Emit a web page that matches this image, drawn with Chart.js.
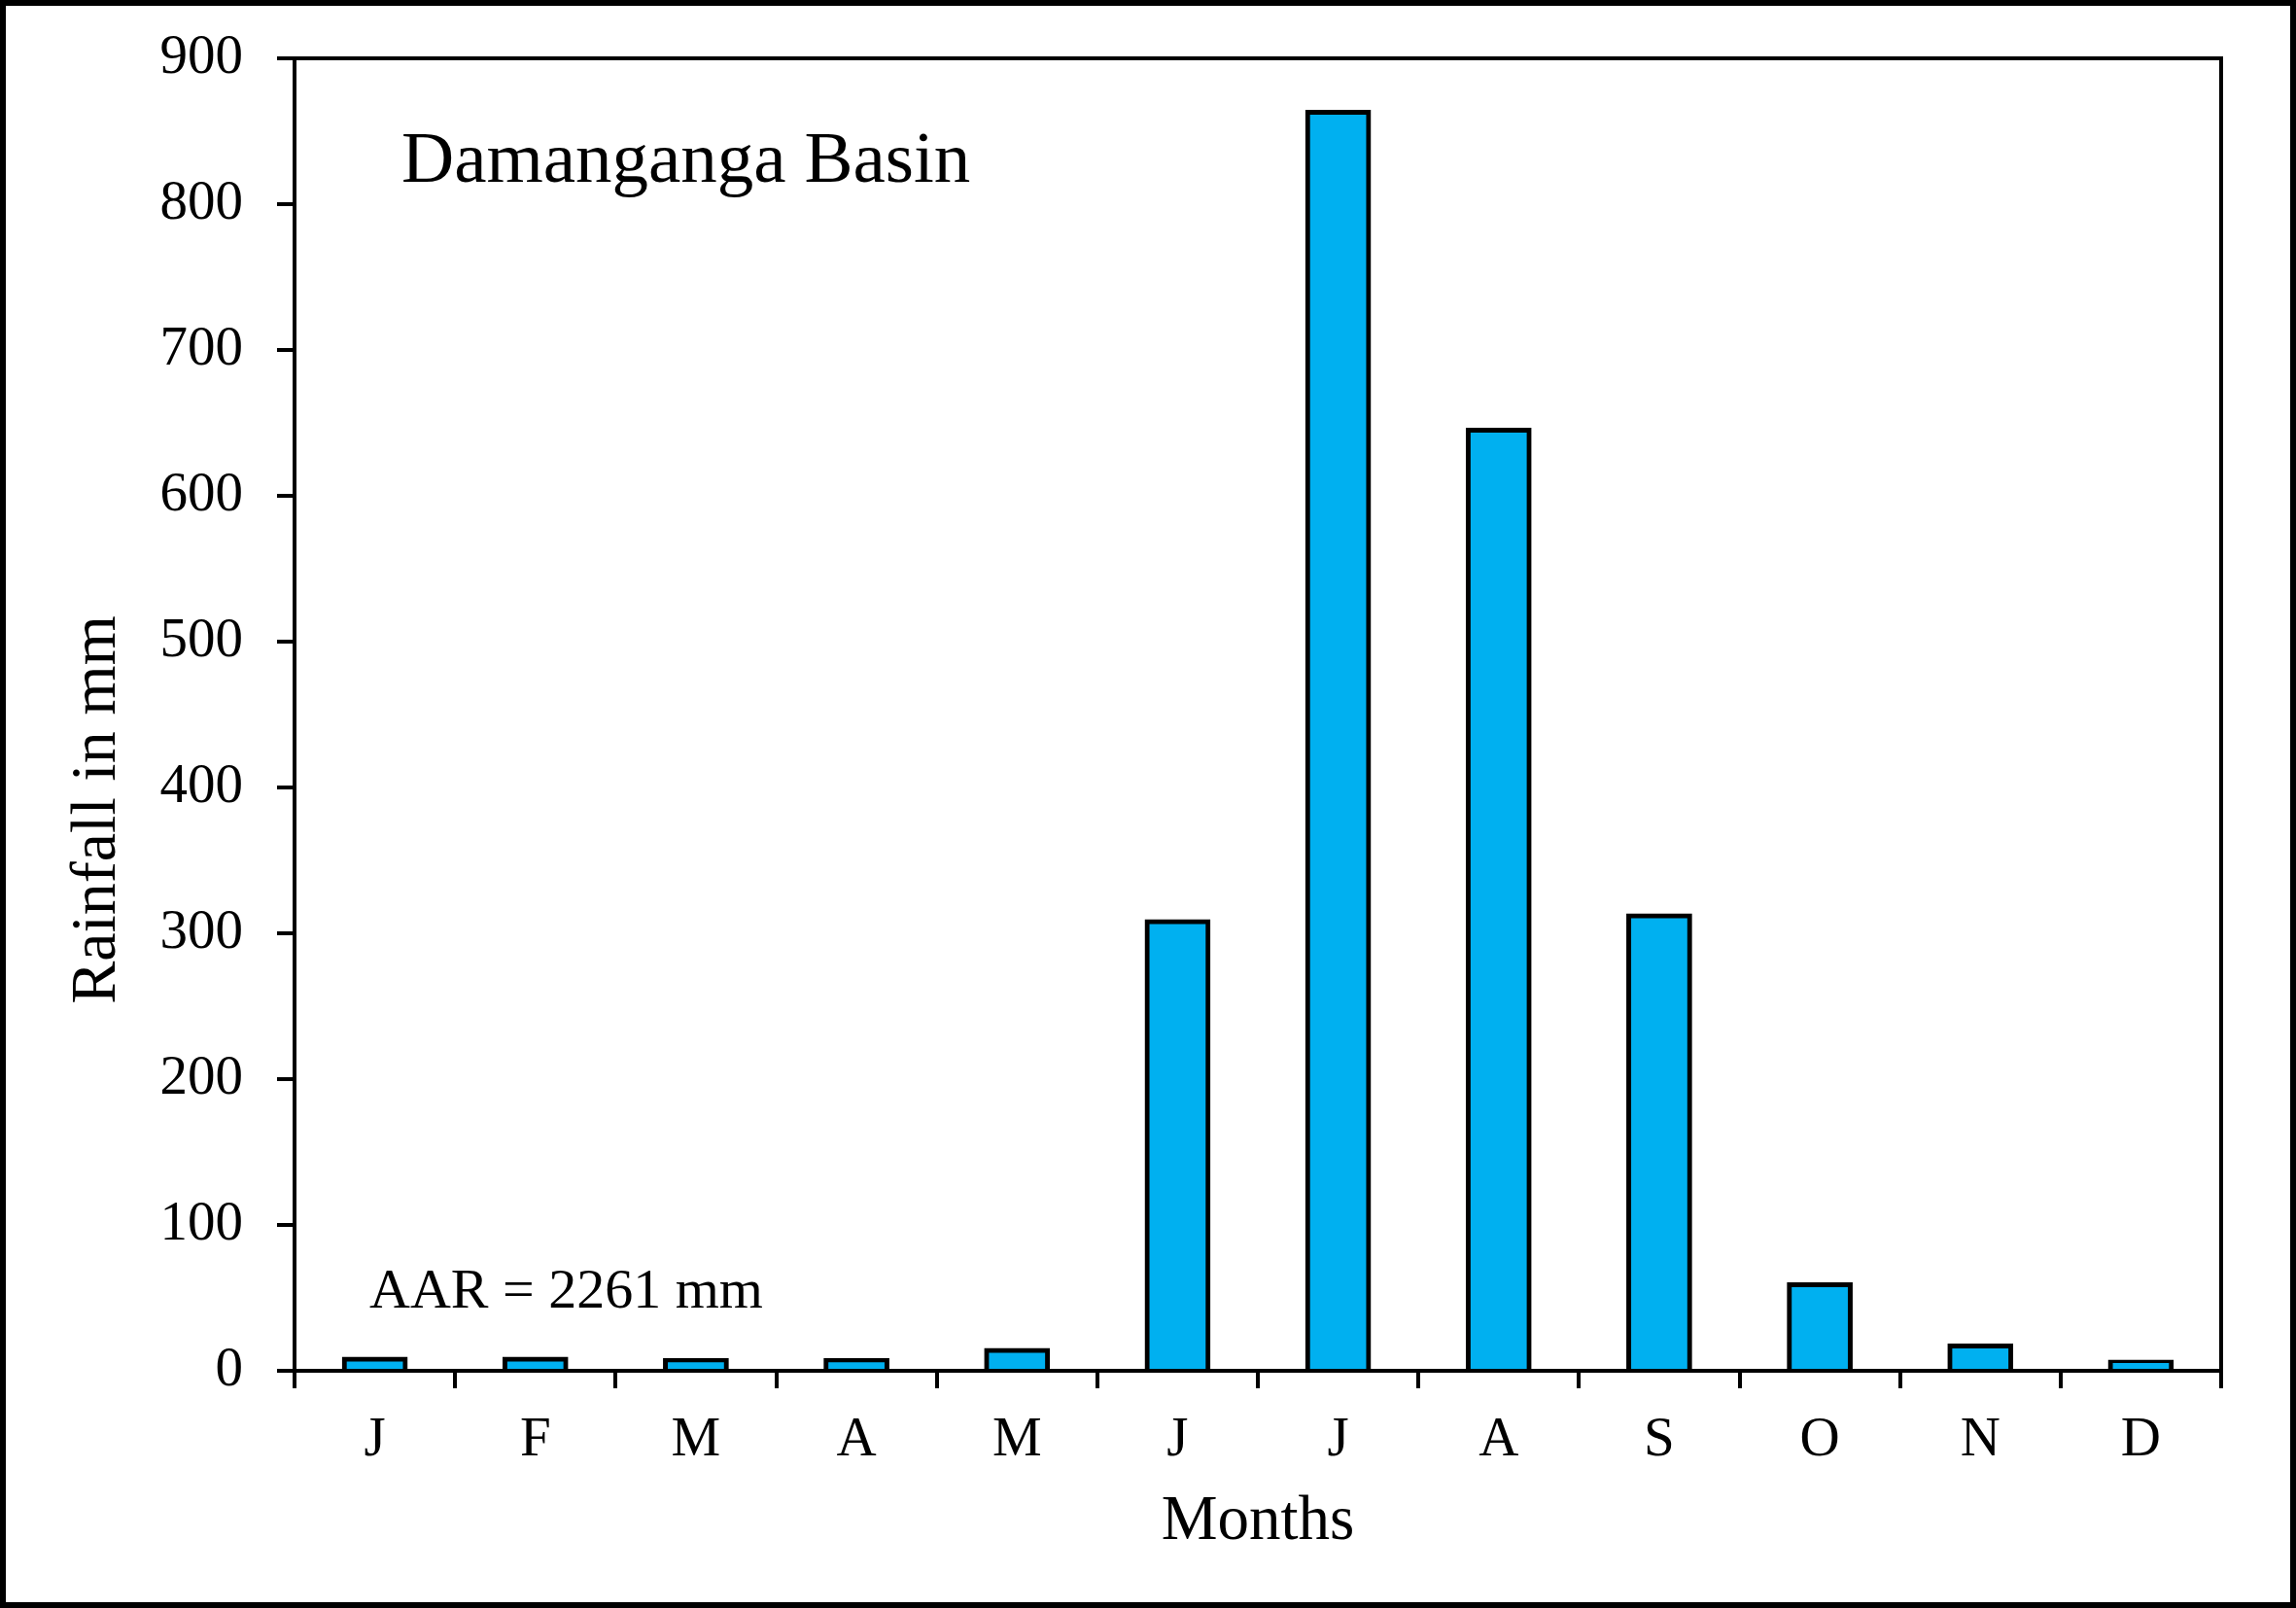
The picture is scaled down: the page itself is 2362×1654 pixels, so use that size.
<!DOCTYPE html>
<html>
<head>
<meta charset="utf-8">
<script src="https://cdn.jsdelivr.net/npm/chart.js@4/dist/chart.umd.min.js"></script>
<style>
  body { margin: 0; background: #fff; }
  canvas { display: block; }
</style>
</head>
<body>
<canvas id="chart" width="2362" height="1654"></canvas>
<script>
// Monthly rainfall, Damanganga Basin
const months = ['J', 'F', 'M', 'A', 'M', 'J', 'J', 'A', 'S', 'O', 'N', 'D'];
const rainfall = [8, 8, 7, 7, 14, 308, 863, 645, 312, 59, 17, 6];
const yTicks = [0, 100, 200, 300, 400, 500, 600, 700, 800, 900];

const serif = 'Liberation Serif';

// extra texts + frames drawn on top
const overlay = {
    id: 'overlay',
    afterDraw(chart) {
        const ctx = chart.ctx;
        const a = chart.chartArea;
        ctx.save();
        ctx.strokeStyle = '#000';
        ctx.lineWidth = 4;
        ctx.strokeRect(a.left, a.top, a.right - a.left, a.bottom - a.top);
        ctx.lineWidth = 6;
        ctx.strokeRect(3, 3, chart.width - 6, chart.height - 6);

        ctx.fillStyle = '#000';
        ctx.textBaseline = 'alphabetic';
        ctx.textAlign = 'left';
        ctx.font = '75px "' + serif + '"';
        ctx.fillText('Damanganga Basin', 413, 187);
        ctx.font = '58px "' + serif + '"';
        ctx.fillText('AAR = 2261 mm', 380, 1345);

        ctx.textAlign = 'center';
        ctx.font = '65px "' + serif + '"';
        ctx.fillText('Months', (a.left + a.right) / 2, 1583);

        ctx.font = '66px "' + serif + '"';
        ctx.translate(118, 833);
        ctx.rotate(-Math.PI / 2);
        ctx.fillText('Rainfall in mm', 0, 0);
        ctx.restore();
    }
};

document.addEventListener('DOMContentLoaded', function() {
    const ctx = document.getElementById('chart').getContext('2d');
    new Chart(ctx, {
        type: 'bar',
        data: {
            labels: months,
            datasets: [{
                label: 'Rainfall',
                data: rainfall,
                backgroundColor: '#00B0F0',
                borderColor: '#000',
                borderWidth: 5,
                inflateAmount: 2.5,
                categoryPercentage: 1,
                barPercentage: 0.38
            }]
        },
        options: {
            responsive: false,
            animation: false,
            devicePixelRatio: 1,
            layout: {
                padding: { top: 60, right: 77, left: 0, bottom: 0 }
            },
            plugins: {
                legend: { display: false },
                tooltip: { enabled: false }
            },
            scales: {
                x: {
                    grid: {
                        offset: true,
                        drawOnChartArea: false,
                        drawTicks: true,
                        tickLength: 18,
                        lineWidth: 4,
                        color: '#000'
                    },
                    border: { display: true, color: '#000', width: 4 },
                    ticks: {
                        color: '#000',
                        padding: 20,
                        maxRotation: 0,
                        font: { family: serif, size: 57 }
                    },
                    afterFit: function(scale) { scale.height = 244; }
                },
                y: {
                    min: 0,
                    max: 900,
                    afterBuildTicks: function(scale) {
                        scale.ticks = yTicks.map(v => ({ value: v }));
                    },
                    grid: {
                        drawOnChartArea: false,
                        drawTicks: true,
                        tickLength: 18,
                        lineWidth: 4,
                        color: '#000'
                    },
                    border: { display: true, color: '#000', width: 4 },
                    ticks: {
                        color: '#000',
                        padding: 35,
                        font: { family: serif, size: 57, lineHeight: 0.8 }
                    },
                    afterFit: function(scale) { scale.width = 303; }
                }
            }
        },
        plugins: [overlay]
    });
});
</script>
</body>
</html>
